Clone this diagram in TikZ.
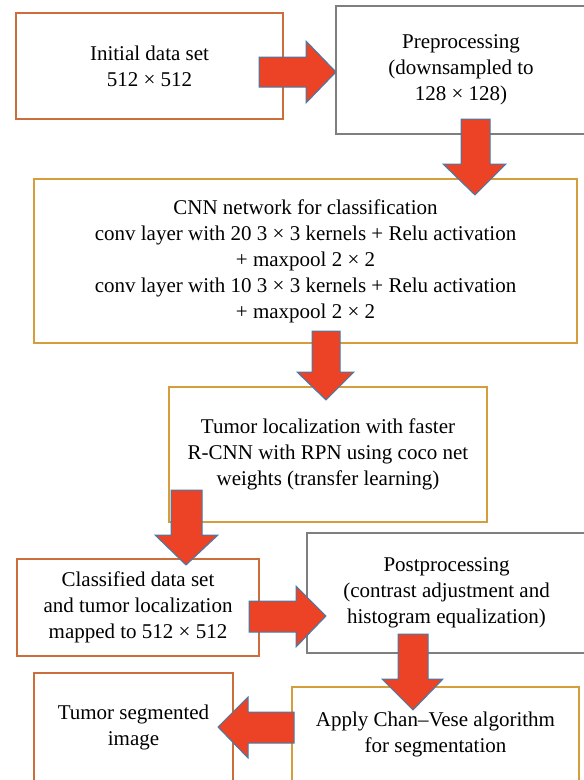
\documentclass[tikz,border=0pt]{standalone}
\usepackage{fontspec}
\setmainfont{Liberation Serif}
\definecolor{boxorange}{HTML}{CC6D3C}
\definecolor{boxgold}{HTML}{D69D3C}
\definecolor{boxgray}{HTML}{7F7F7F}
\definecolor{arrfill}{HTML}{EC4226}
\definecolor{arredge}{HTML}{3E7FAE}
\begin{document}
\begin{tikzpicture}[x=1pt,y=-1pt,
  box/.style={draw=#1, line width=1.4pt, fill=white, rectangle, inner sep=0pt, align=center,
    font=\fontsize{21}{26}\selectfont},
  barrow/.style={fill=arrfill, draw=arredge, line width=1pt, line join=miter}]
\useasboundingbox (0,0) rectangle (584,780);
\clip (0,0) rectangle (584,780);
% boxes
\node[box=boxorange, minimum width=267pt, minimum height=106pt] (b1) at (149.5,66) {Initial data set\\512 × 512};
\node[box=boxgray, minimum width=250pt, minimum height=128pt] (b2) at (461,70) {Preprocessing\\(downsampled to\\128 × 128)};
\node[box=boxgold, minimum width=543pt, minimum height=164pt] (b3) at (305.5,261) {CNN network for classification\\conv layer with 20 3 × 3 kernels + Relu activation\\+ maxpool 2 × 2\\conv layer with 10 3 × 3 kernels + Relu activation\\+ maxpool 2 × 2};
\node[box=boxgold, minimum width=318pt, minimum height=135pt] (b4) at (328,454.5) {Tumor localization with faster\\R-CNN with RPN using coco net\\weights (transfer learning)};
\node[box=boxorange, minimum width=242pt, minimum height=97pt] (b5) at (138,607.5) {Classified data set\\and tumor localization\\mapped to 512 × 512};
\node[box=boxgray, minimum width=279pt, minimum height=120pt] (b6) at (446.5,593) {Postprocessing\\(contrast adjustment and\\histogram equalization)};
\node[box=boxgold, minimum width=287pt, minimum height=95pt] (b7) at (435.5,734.5) {Apply Chan–Vese algorithm\\for segmentation};
\node[box=boxorange, minimum width=199pt, minimum height=109pt] (b8) at (133.5,727.5) {Tumor segmented\\image};
% block arrows
\draw[barrow] (259,57) -- (306,57) -- (306,41) -- (336,72) -- (306,103) -- (306,87) -- (259,87) -- cycle;
\draw[barrow] (461,119) -- (490,119) -- (490,164) -- (506,164) -- (475,195) -- (443,164) -- (461,164) -- cycle;
\draw[barrow] (312,331) -- (340,331) -- (340,372) -- (354,372) -- (326,400) -- (297,372) -- (312,372) -- cycle;
\draw[barrow] (171,490) -- (202,490) -- (202,535) -- (218,535) -- (186,565) -- (155,535) -- (171,535) -- cycle;
\draw[barrow] (249,601) -- (296,601) -- (296,586) -- (326,616) -- (296,647) -- (296,632) -- (249,632) -- cycle;
\draw[barrow] (398,634) -- (428,634) -- (428,679) -- (443,679) -- (413,710) -- (382,679) -- (398,679) -- cycle;
\draw[barrow] (294,712) -- (248,712) -- (248,697) -- (218,727) -- (248,758) -- (248,743) -- (294,743) -- cycle;
\end{tikzpicture}
\end{document}
